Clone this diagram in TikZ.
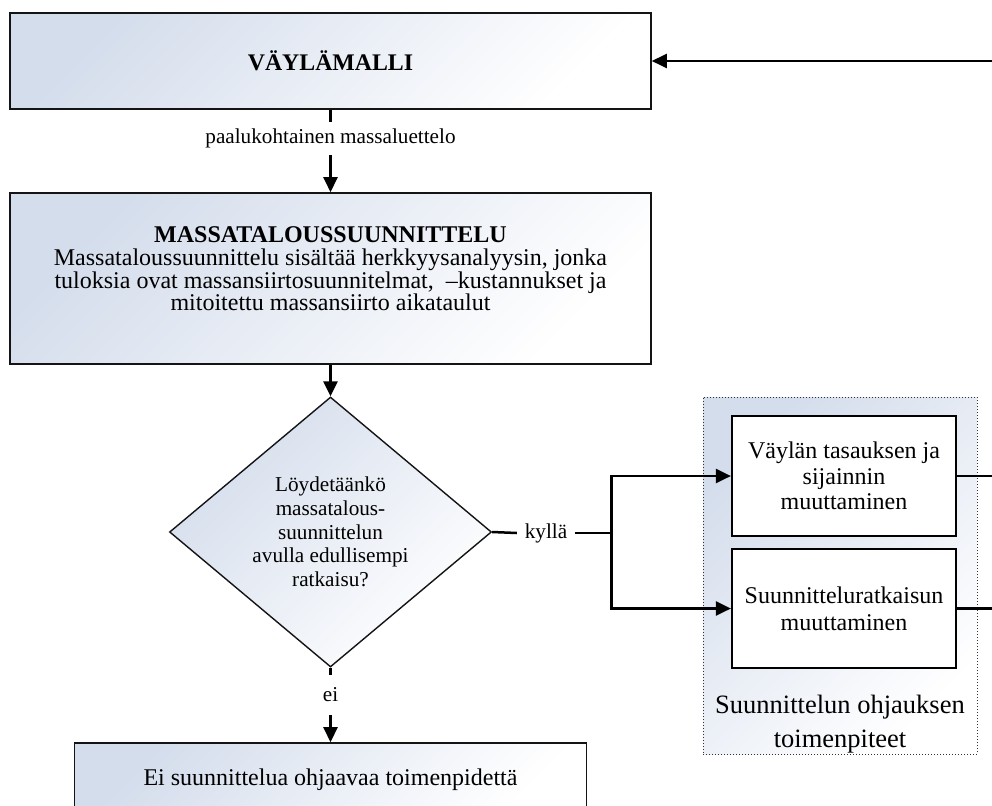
\documentclass[tikz,border=0pt]{standalone}
\usepackage{fontspec}
\setmainfont{Liberation Serif}
\usetikzlibrary{arrows.meta,shapes.geometric}
\definecolor{paleblue}{RGB}{212,221,236}
\definecolor{edge}{RGB}{20,20,20}
\begin{document}
\begin{tikzpicture}[x=1pt,y=-1pt,
  flow/.style={line width=2.5pt, draw=black},
  arrowline/.style={flow, -{Triangle[length=15pt,width=14pt]}},
  shadedfill/.style={top color=paleblue, bottom color=white, shading angle=45},
  shadedbox/.style={draw=edge, line width=1.6pt, shadedfill, inner sep=0pt,
    align=center, font=\fontsize{24}{19.5}\selectfont},
  plainbox/.style={draw=black, line width=2.2pt, fill=white, minimum width=224pt,
    inner sep=0pt, align=center, font=\fontsize{24}{25.5}\selectfont},
  flowlabel/.style={inner sep=0pt, align=center, font=\fontsize{21.2}{23.7}\selectfont},
]
\path[use as bounding box] (0,0) rectangle (992,805);
\clip (0,0) rectangle (992,805);

% main column
\node[shadedbox, minimum width=641pt, minimum height=96pt,
  font=\fontsize{23.8}{20}\selectfont\bfseries] (model) at (330.5,61) {VÄYLÄMALLI};
\node[flowlabel, minimum height=33pt] (listlbl) at (330.5,138.5) {paalukohtainen massaluettelo};
\node[shadedbox, minimum width=641pt, minimum height=171pt] (mass) at (330.5,278.5) {};
\node[inner sep=0pt, align=center, font=\fontsize{24}{19.5}\selectfont] (masstext) at (330.5,269)
  {\textbf{MASSATALOUSSUUNNITTELU}\\[3pt]
   Massataloussuunnittelu sisältää herkkyysanalyysin, jonka\\
   tuloksia ovat massansiirtosuunnitelmat, \ –kustannukset ja\\
   mitoitettu massansiirto aikataulut};
\node[diamond, draw=edge, line width=1.4pt, shadedfill, minimum width=322pt,
  minimum height=270pt, inner sep=0pt, align=center,
  font=\fontsize{21.2}{23.7}\selectfont] (ask) at (330.5,532)
  {Löydetäänkö\\massatalous-\\suunnittelun\\avulla edullisempi\\ratkaisu?};
\node[flowlabel, minimum height=40pt] (nolbl) at (330.5,695) {ei};
\node[shadedbox, minimum width=512pt, minimum height=74pt] (none) at (330.5,780)
  {Ei suunnittelua ohjaavaa toimenpidettä};

% design steering group
\node[draw=black!80, dotted, line width=1pt, shadedfill, minimum width=274pt,
  minimum height=357pt, inner sep=0pt] (grp) at (840,575.5) {};
\node[inner sep=0pt, align=center, font=\fontsize{26.5}{34}\selectfont] (grplbl) at (840,724)
  {Suunnittelun ohjauksen\\toimenpiteet};
\node[flowlabel, minimum width=58pt] (yes) at (546,533) {kyllä};
\coordinate (split) at (611.5,533);
\coordinate (back) at (992,61);
\coordinate (out1) at (992,476);
\coordinate (out2) at (992,608.5);

% connectors
\draw[arrowline] (back) -- (model.east);
\draw[flow] (model.south) -- (listlbl.north);
\draw[arrowline] (listlbl.south) -- (mass.north);
\draw[arrowline] (mass.south) -- (ask.north);
\draw[flow] (ask.south) -- (nolbl.north);
\draw[arrowline] (nolbl.south) -- (none.north);
\draw[flow] (ask.east) -- (yes.west);
\draw[flow] (yes.east) -- (split);

\node[plainbox, minimum height=120pt] (b1) at (844,476)
  {Väylän tasauksen ja\\sijainnin\\muuttaminen};
\node[plainbox, minimum height=119pt, font=\fontsize{24}{27}\selectfont] (b2) at (844,608.5)
  {Suunnitteluratkaisun\\muuttaminen};

\draw[arrowline] (split) |- (b1.west);
\draw[arrowline] (split) |- (b2.west);
\draw[flow] (b1.east) -- (out1);
\draw[flow] (b2.east) -- (out2);
\end{tikzpicture}
\end{document}
